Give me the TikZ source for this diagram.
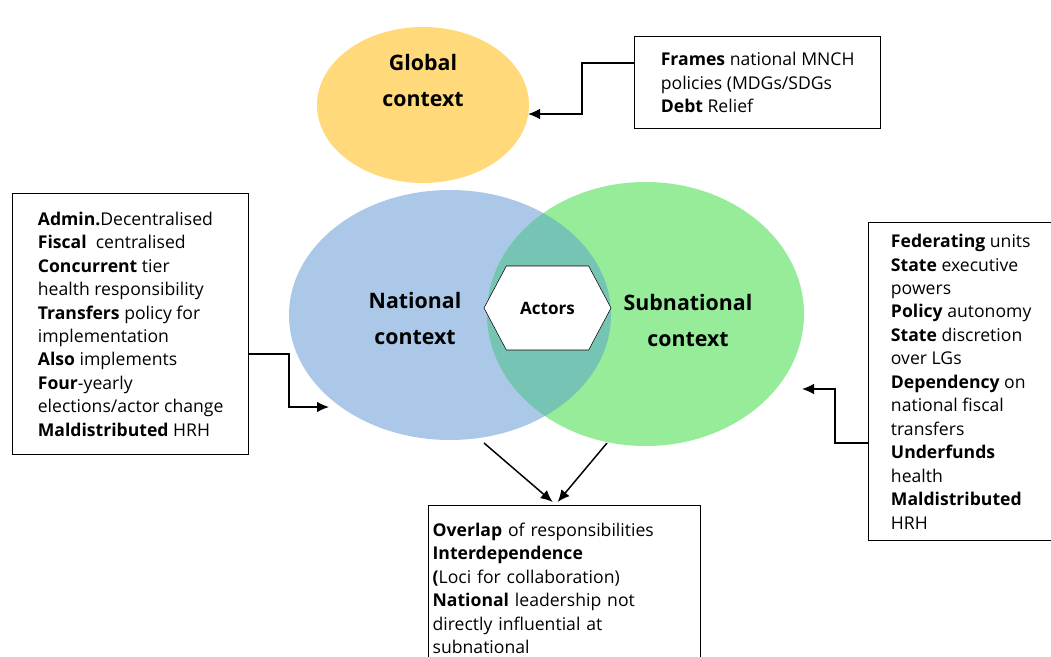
\documentclass[tikz,border=0pt]{standalone}
\usepackage{fontspec}
\setmainfont{Open Sans}
\usetikzlibrary{arrows.meta,positioning,calc,shapes.geometric,shapes.symbols}
\definecolor{globalgold}{RGB}{255,217,122}
\definecolor{natblue}{RGB}{172,200,232}
\definecolor{subgreen}{RGB}{150,236,152}
\definecolor{overlapteal}{RGB}{118,196,180}

\begin{document}
\begin{tikzpicture}[x=0.75pt,y=-0.75pt,>={Latex[length=9pt,width=8pt]},
    every node/.style={inner sep=0pt},
    note/.style={draw,line width=1pt,align=left,anchor=north west,inner ysep=0pt,
      font=\fontsize{13.2}{17.6}\selectfont},
    ctxlabel/.style={align=center,font=\bfseries\fontsize{16}{27}\selectfont}]
  \clip (0,0) rectangle (1051,657);
  \fill[white] (0,0) rectangle (1051,657);

  % context ellipses
  \node[ellipse,fill=globalgold,minimum width=159pt,minimum height=117pt] (glob) at (423,105) {};
  \node[ellipse,fill=natblue,minimum width=241.5pt,minimum height=187.5pt] (nat) at (450,315) {};
  \node[ellipse,fill=subgreen,minimum width=237.75pt,minimum height=198pt] (sub) at (645.5,314) {};
  \begin{scope}
    \clip (nat.center) ellipse [x radius=120.75pt,y radius=93.75pt];
    \fill[overlapteal] (sub.center) ellipse [x radius=118.875pt,y radius=99pt];
  \end{scope}

  \node[ctxlabel] (globlbl) at (423,80) {Global\\context};
  \node[ctxlabel] (natlbl) at (415,318) {National\\context};
  \node[ctxlabel] (sublbl) at (688,320) {Subnational\\context};

  \node[signal,signal to=west and east,signal pointer angle=124,draw,fill=white,
    minimum width=95.25pt,minimum height=63pt,font=\bfseries\fontsize{12.8}{15}\selectfont] (act) at (547.5,308) {Actors};

  % note boxes
  \node[note,inner xsep=14pt,minimum width=184.5pt,minimum height=69pt] (frames) at (634,36)
    {\textbf{Frames} national MNCH\\policies (MDGs/SDGs\\\textbf{Debt} Relief};
  \node[note,inner xsep=15pt,minimum width=177pt,minimum height=195.75pt] (lbox) at (12,193)
    {\textbf{Admin.}Decentralised\\
     \textbf{Fiscal}\ \ centralised\\
     \textbf{Concurrent} tier\\
     health responsibility\\
     \textbf{Transfers} policy for\\
     implementation\\
     \textbf{Also} implements\\
     \textbf{Four}-yearly\\
     elections/actor change\\
     \textbf{Maldistributed} HRH};
  \node[note,inner xsep=15pt,minimum width=138.75pt,minimum height=238.5pt] (rbox) at (868,222)
    {\textbf{Federating} units\\
     \textbf{State} executive\\
     powers\\
     \textbf{Policy} autonomy\\
     \textbf{State} discretion\\
     over LGs\\
     \textbf{Dependency} on\\
     national fiscal\\
     transfers\\
     \textbf{Underfunds}\\
     health\\
     \textbf{Maldistributed}\\
     HRH};
  \node[note,inner xsep=3pt,text width=198pt,minimum height=123.75pt] (ovl) at (428,505)
    {\textbf{Overlap} of responsibilities\\
     \textbf{Interdependence}\\
     \textbf{(}Loci for collaboration)\\
     \textbf{National} leadership not\\
     directly influential at\\
     subnational};

  % connectors
  \coordinate (globin) at (528,114);
  \coordinate (natin) at (329,407);
  \coordinate (subin) at (802,389);
  \coordinate (natout) at (484,443);
  \coordinate (subout) at (607,443);
  \draw[->,line width=1.1pt] ($(frames.north west)+(0,27)$) -| (582,114) -- (globin);
  \draw[->,line width=1.1pt] ($(lbox.north east)+(0,161)$) -| (289,407) -- (natin);
  \draw[->,line width=1.1pt] ($(rbox.north west)+(0,221)$) -| (835,389) -- (subin);
  \draw[->,line width=1.1pt] (natout) -- ($(ovl.north)+(-12,-3)$);
  \draw[->,line width=1.1pt] (subout) -- ($(ovl.north)+(-7,-3)$);
\end{tikzpicture}
\end{document}
